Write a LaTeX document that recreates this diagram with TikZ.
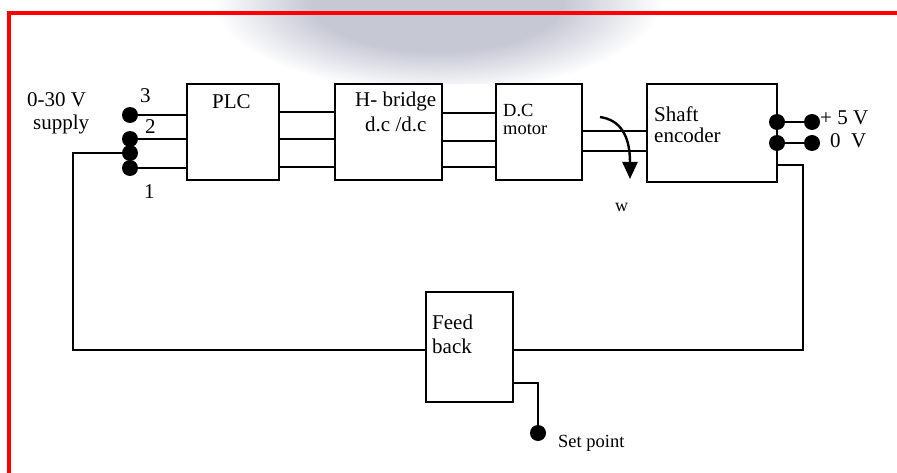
\documentclass[tikz,border=0pt]{standalone}
\usepackage{fontspec}
\setmainfont{Liberation Serif}
\usetikzlibrary{arrows.meta}
\definecolor{blobc}{RGB}{198,200,212}
\pgfdeclareradialshading{blobshade}{\pgfpoint{0bp}{0bp}}{color(0bp)=(blobc); color(14bp)=(blobc); color(25bp)=(white); color(50bp)=(white)}
\tikzset{
  box/.style={draw, line width=1.8pt, inner sep=0pt},
  dot/.style={circle, fill=black, inner sep=0pt, minimum size=16pt},
  wire/.style={line width=1.8pt},
  txt/.style={inner sep=0pt, anchor=base west, font=\fontsize{21}{25}\selectfont},
  smalltxt/.style={inner sep=0pt, anchor=base west, font=\fontsize{18.5}{22}\selectfont}
}
\begin{document}
\begin{tikzpicture}[x=1pt,y=-1pt]
\useasboundingbox (0,0) rectangle (897,473);
% faint watermark
\begin{scope}
\clip (0,0) rectangle (897,84);
\shade[shading=blobshade] (437,0) ellipse [x radius=225, y radius=92];
\end{scope}
% red frame
\draw[red, line width=4pt] (9.3,475) -- (9.3,13.5) -- (899,13.5);

% boxes
\node[box, minimum width=92pt, minimum height=96pt] (plc) at (233,132) {};
\node[box, minimum width=107pt, minimum height=96pt] (hb) at (388.5,132) {};
\node[box, minimum width=86pt, minimum height=96pt] (mot) at (539,132) {};
\node[box, minimum width=130pt, minimum height=98pt] (enc) at (712,133) {};
\node[box, minimum width=87pt, minimum height=110pt] (fb) at (469.5,347) {};

% supply dots
\node[dot] (d3) at (130,115) {};
\node[dot] (d2) at (130,139) {};
\node[dot] (df) at (130,153) {};
\node[dot] (d1) at (130,168) {};
\draw[wire] (d3) -- (d3 -| plc.west);
\draw[wire] (d2) -- (d2 -| plc.west);
\draw[wire] (d1) -- (d1 -| plc.west);

% PLC -> H-bridge
\draw[wire] (plc.east |- 0,112) -- (hb.west |- 0,112);
\draw[wire] (plc.east |- 0,139) -- (hb.west |- 0,139);
\draw[wire] (plc.east |- 0,167) -- (hb.west |- 0,167);
% H-bridge -> motor
\draw[wire] (hb.east |- 0,113) -- (mot.west |- 0,113);
\draw[wire] (hb.east |- 0,141) -- (mot.west |- 0,141);
\draw[wire] (hb.east |- 0,167) -- (mot.west |- 0,167);
% motor -> encoder
\draw[wire] (mot.east |- 0,131) -- (enc.west |- 0,131);
\draw[wire] (mot.east |- 0,151) -- (enc.west |- 0,151);

% encoder supply dots
\node[dot] (e1) at (777,122) {};
\node[dot] (e2) at (777,143) {};
\node[dot] (p5) at (812,122) {};
\node[dot] (p0) at (812,143) {};
\draw[wire] (e1) -- (p5);
\draw[wire] (e2) -- (p0);

% feedback loop
\coordinate (fl1) at (73,153);
\coordinate (fl2) at (73,350);
\draw[wire] (df) -- (fl1) -- (fl2) -- (fl2 -| fb.west);
\coordinate (fr1) at (803,165);
\coordinate (fr2) at (803,350);
\draw[wire] (enc.east |- fr1) -- (fr1) -- (fr2) -- (fr2 -| fb.east);
% set point
\coordinate (sp1) at (538,383);
\node[dot] (sp) at (538,433) {};
\draw[wire] (fb.east |- sp1) -- (sp1) -- (sp);

% rotation arrow
\coordinate (wa) at (600,117);
\coordinate (wb) at (630,179);
\draw[line width=2.4pt, -{Triangle[length=17pt,width=15pt]}] (wa) .. controls (620,120) and (630,135) .. (wb);

% texts
\node[txt] (t030) at (27,107) {0-30 V};
\node[txt] (tsup) at (33,130) {supply};
\node[txt] (t3) at (140,103) {3};
\node[txt] (t2) at (145,134) {2};
\node[txt] (t1) at (144,199) {1};
\node[txt] (tplc) at (212,109) {PLC};
\node[txt] (thb1) at (355,107) {H- bridge};
\node[txt] (thb2) at (365,132) {d.c /d.c};
\node[smalltxt] (tdc) at (503,117) {D.C};
\node[smalltxt] (tmot) at (503,135) {motor};
\node[txt] (tsh) at (654,122) {Shaft};
\node[txt] (ten) at (654,143) {encoder};
\node[txt] (t5v) at (820,125) {+ 5 V};
\node[txt] (t0v) at (830,148) {0\ \ V};
\node[smalltxt, font=\fontsize{18}{22}\selectfont] (tw) at (615,212) {w};
\node[txt] (tfeed) at (432,329) {Feed};
\node[txt] (tback) at (432,353) {back};
\node[smalltxt] (tsp) at (558,447) {Set point};
\end{tikzpicture}
\end{document}
